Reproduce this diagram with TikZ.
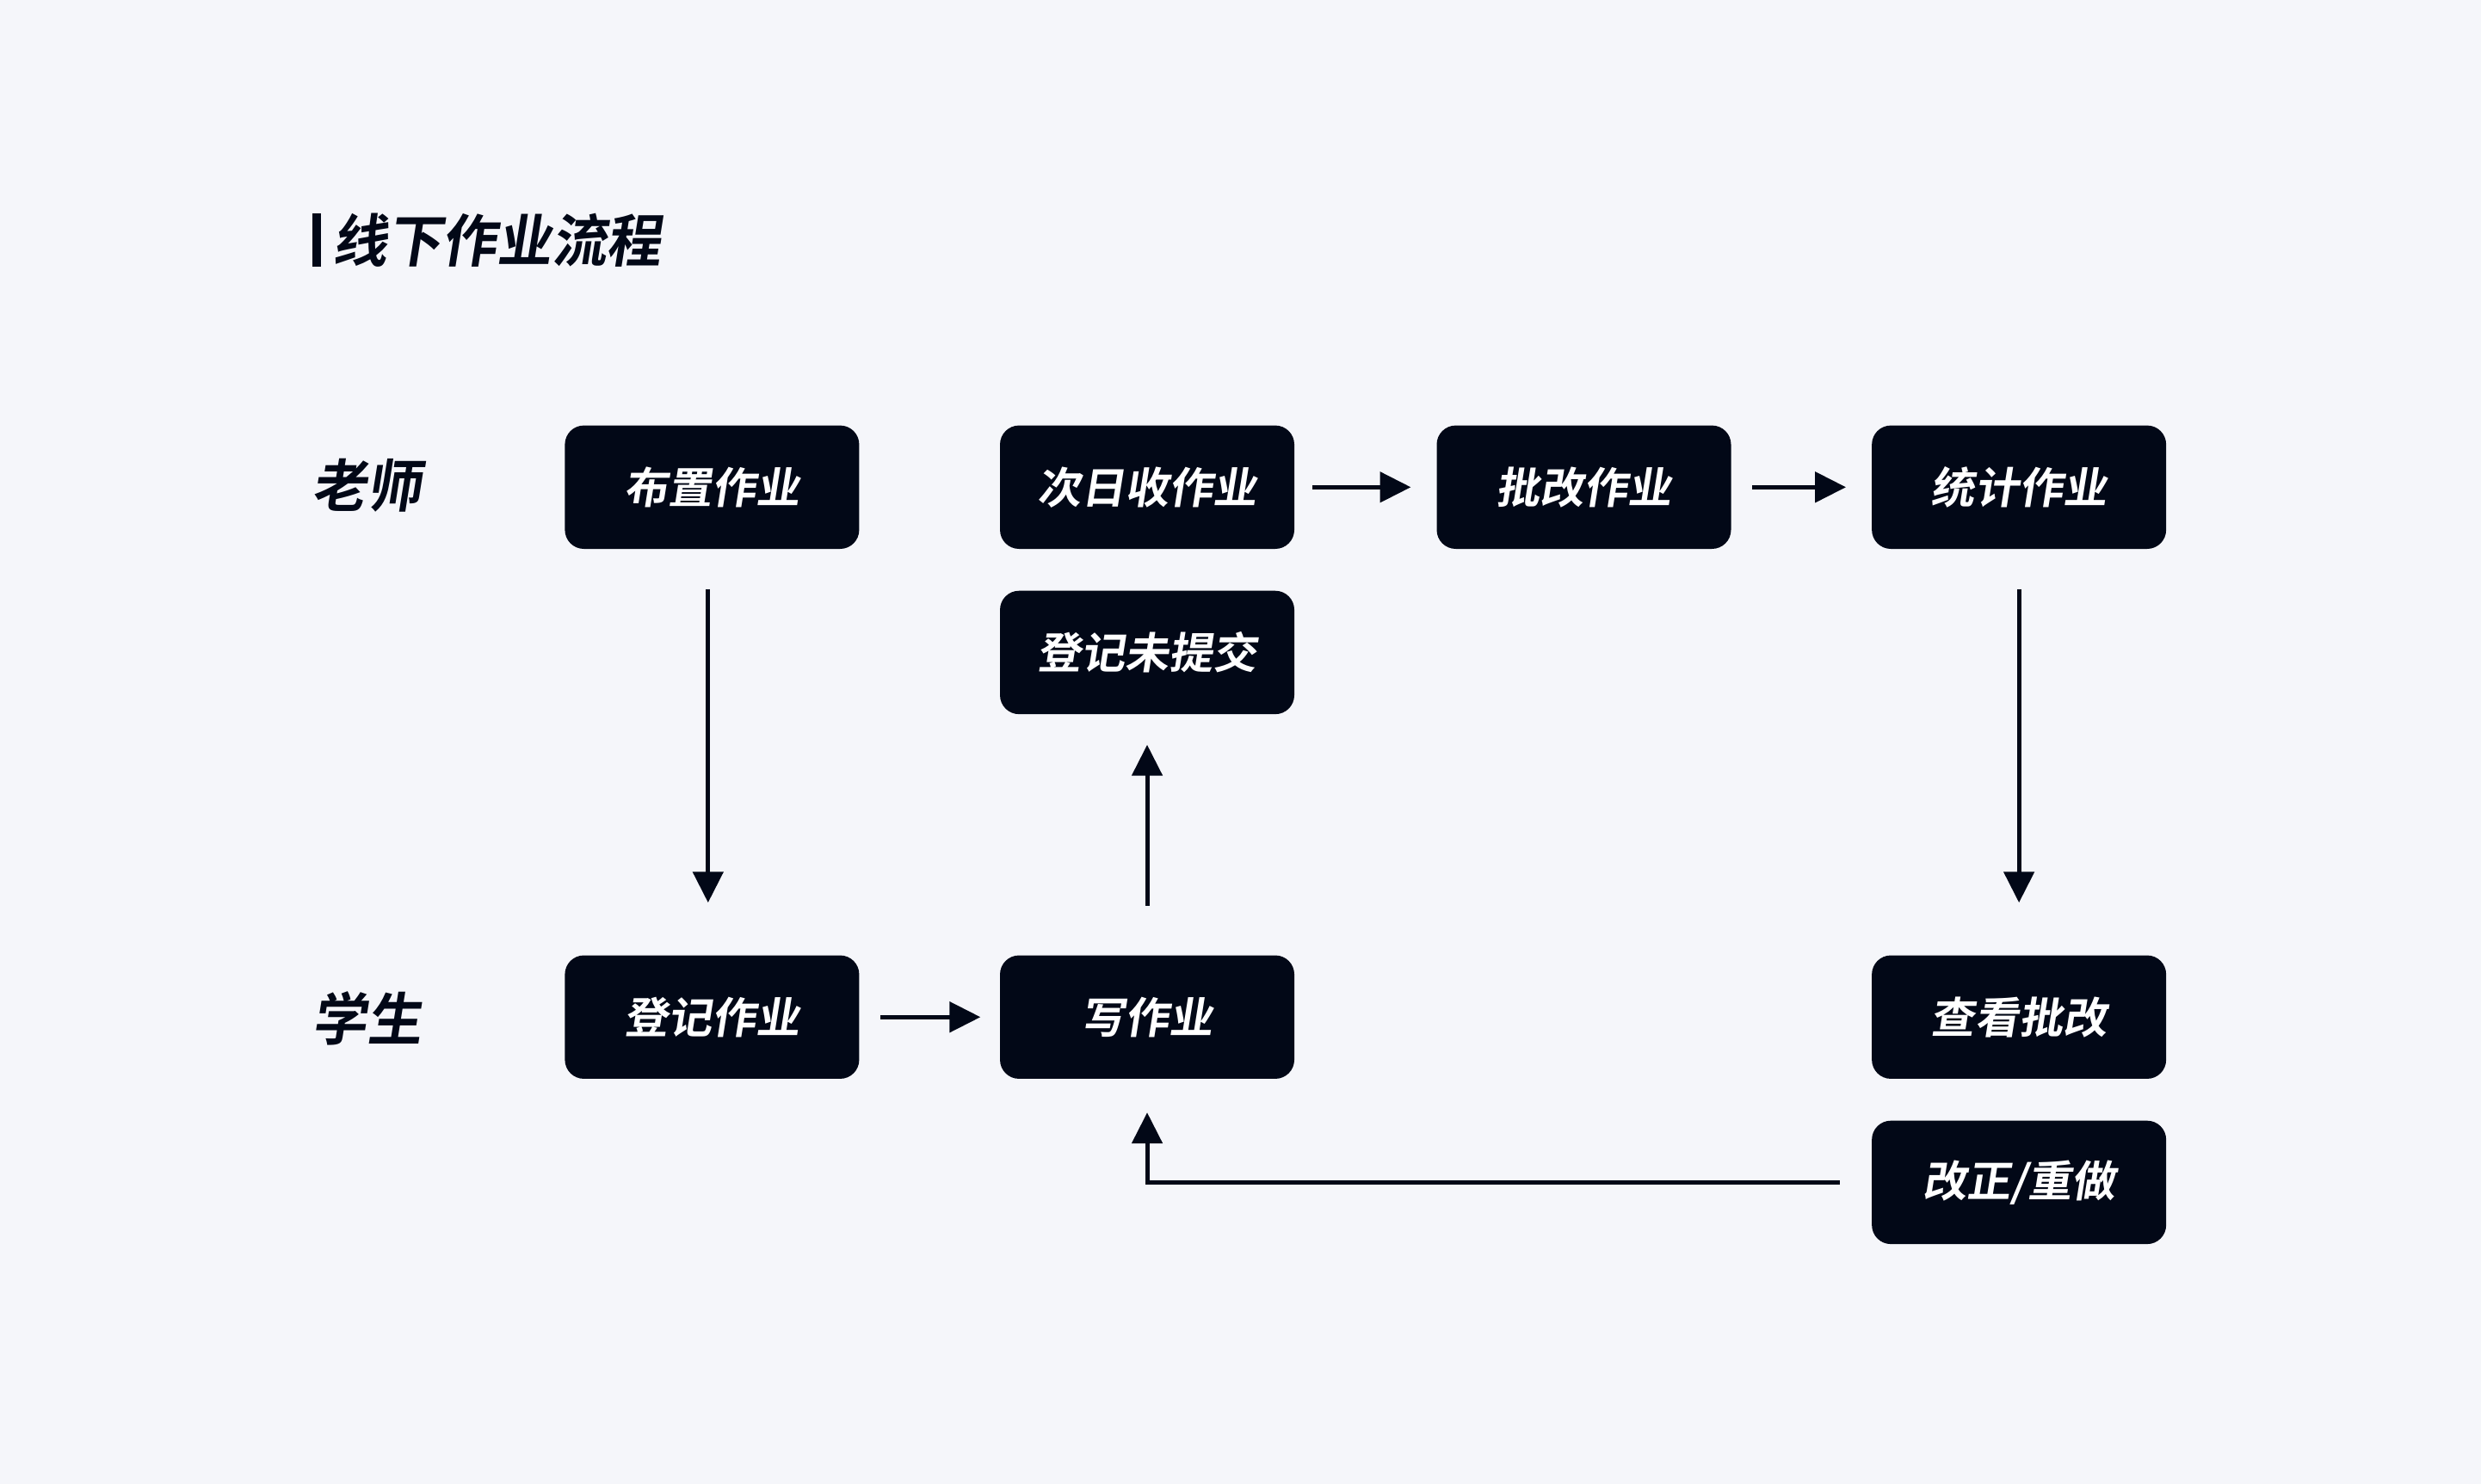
\documentclass[tikz,border=0pt]{standalone}
\usepackage{fontspec}
\usepackage{tikz}
\usetikzlibrary{arrows.meta}
\newfontfamily\cjk{Noto Sans CJK SC Bold}[FakeSlant=0.16,FakeStretch=1.02]
\newfontfamily\cjktitle{Noto Sans CJK SC Bold}[FakeSlant=0.16,FakeStretch=0.96]
\definecolor{bgcol}{HTML}{F5F6FA}
\definecolor{boxcol}{HTML}{020817}
\tikzset{
	stepbox/.style={shape=rectangle, rounded corners=0.24cm, fill=boxcol,
		minimum width=3.72cm, minimum height=1.56cm, inner sep=0pt,
		text=white, font=\cjk\fontsize{15.5pt}{15.5pt}\selectfont},
	lane/.style={text=boxcol, inner sep=0pt, font=\cjktitle\fontsize{20.5pt}{20.5pt}\selectfont},
	arr/.style={-{Triangle[width=0.38cm,length=0.39cm]}, draw=boxcol, line width=1.55pt}
}

\begin{document}
\begin{tikzpicture}

	\fill[bgcol] (0,0) rectangle (31.36,18.76);
	\useasboundingbox (0,0) rectangle (31.36,18.76);

	% title
	\fill[boxcol] (3.95,15.39) rectangle (4.06,16.06);
	\node[lane, anchor=west] (title) at (4.20,15.72) {线下作业流程};

	% lanes
	\node[lane] (teacher) at (4.64,12.62) {老师};
	\node[lane] (student) at (4.64,5.88)  {学生};

	\node[stepbox] (assign)  at (9.00,12.60)  {布置作业};
	\node[stepbox] (collect) at (14.50,12.60) {次日收作业};
	\node[stepbox] (grade)   at (20.02,12.60) {批改作业};
	\node[stepbox] (stats)   at (25.52,12.60) {统计作业};
	\node[stepbox] (missing) at (14.50,10.51) {登记未提交};

	\node[stepbox] (record)  at (9.00,5.90)   {登记作业};
	\node[stepbox] (write)   at (14.50,5.90)  {写作业};
	\node[stepbox] (review)  at (25.52,5.90)  {查看批改};
	\node[stepbox] (redo)    at (25.52,3.81)  {改正/重做};

	\draw[arr, shorten <=0.50cm, shorten >=0.66cm] ([xshift=-0.05cm]assign.south) -- ([xshift=-0.05cm]record.north);
	\draw[arr, shorten <=0.50cm, shorten >=0.66cm] (stats) -- (review);
	\draw[arr, shorten <=0.22cm, shorten >=0.32cm] (collect) -- (grade);
	\draw[arr, shorten <=0.26cm, shorten >=0.32cm] (grade) -- (stats);
	\draw[arr, shorten <=0.26cm, shorten >=0.24cm] (record) -- (write);
	\draw[arr, shorten <=0.62cm, shorten >=0.38cm] (write) -- (missing);
	\draw[arr, shorten <=0.40cm, shorten >=0.42cm] (redo.west) -| (write.south);

\end{tikzpicture}
\end{document}
